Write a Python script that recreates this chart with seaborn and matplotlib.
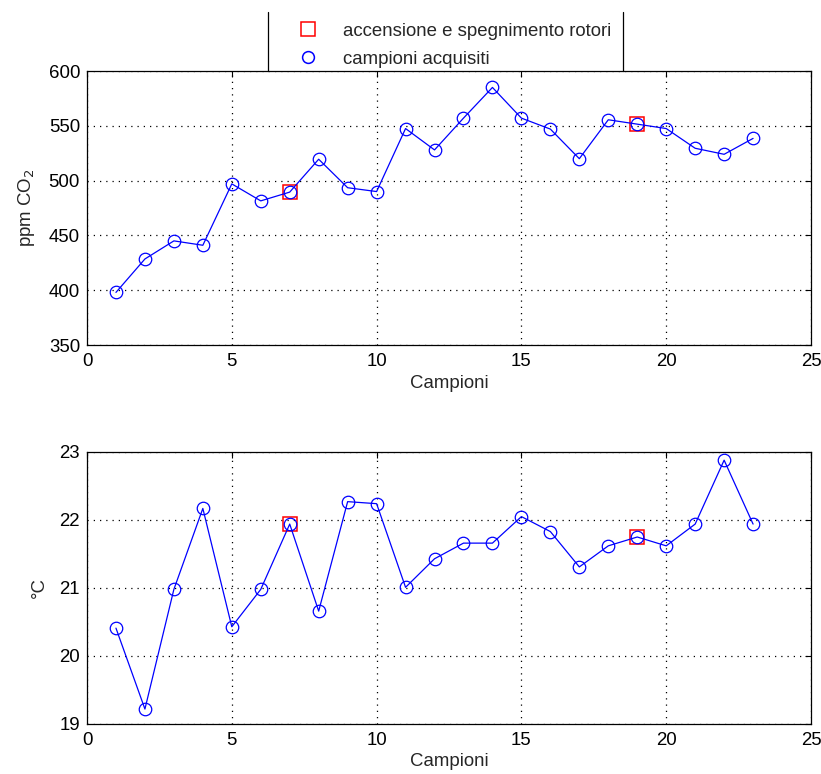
import numpy as np
import matplotlib
matplotlib.use("Agg")
import matplotlib.pyplot as plt
from matplotlib.lines import Line2D
import seaborn as sns

# Sample index and measured values
campioni = list(range(1, 24))
co2_ppm = [398, 428.5, 445, 441, 497, 481.5, 489.5, 519.5, 493.5, 490,
           547.5, 528, 557, 585, 557, 547, 520, 555.5, 551.5, 547.5,
           529.5, 524, 538.5]
temperatura = [20.41, 19.22, 20.98, 22.17, 20.43, 20.98, 21.94, 20.66,
               22.27, 22.24, 21.01, 21.43, 21.66, 21.66, 22.05, 21.83,
               21.31, 21.62, 21.75, 21.62, 21.94, 22.88, 21.94]
# Samples at which the rotors were switched on / off
rotori = [7, 19]

label_rotori = "accensione e spegnimento rotori"
label_campioni = "campioni acquisiti"

sns.set_style("white")
plt.rcParams["font.family"] = ["Liberation Sans", "DejaVu Sans"]
FS = 13.4
plt.rcParams["font.size"] = FS

W, H = 821, 774
fig = plt.figure(figsize=(W / 100, H / 100), dpi=100)
ax1 = fig.add_axes([87 / W, 1 - 345 / H, 724 / W, 274 / H])
ax2 = fig.add_axes([87 / W, 1 - 724 / H, 724 / W, 272 / H])

BLUE = (0, 0, 1)
RED = (1, 0, 0)


def draw_panel(ax, values, ylim, yticks, ylabel):
    idx = [i - 1 for i in rotori]
    sns.lineplot(x=[campioni[i] for i in idx], y=[values[i] for i in idx],
                 ax=ax, estimator=None, linestyle="none", marker="s",
                 markersize=10.5, markerfacecolor="none",
                 markeredgecolor=RED, markeredgewidth=1.1, zorder=3)
    sns.lineplot(x=campioni, y=values, ax=ax, estimator=None, color=BLUE,
                 linewidth=0.9, marker="o", markersize=9,
                 markerfacecolor="none", markeredgecolor=BLUE,
                 markeredgewidth=0.9, zorder=4)
    ax.set_xlim(0, 25)
    ax.set_ylim(*ylim)
    ax.set_xticks(range(0, 26, 5))
    ax.set_yticks(yticks)
    ax.grid(True, color="black", linestyle=(0, (1, 4)), linewidth=0.9)
    ax.tick_params(direction="in", length=4.5, width=0.8, top=True,
                   right=True, labelsize=FS, pad=6, colors="black")
    ax.tick_params(axis="y", pad=5)
    for sp in ax.spines.values():
        sp.set_visible(True)
        sp.set_color("black")
        sp.set_linewidth(0.9)
    ax.set_xlabel("Campioni", fontsize=FS, labelpad=3)
    ax.set_ylabel(ylabel, fontsize=FS, labelpad=8)


draw_panel(ax1, co2_ppm, (350, 600), range(350, 601, 50), "ppm CO$_2$")
draw_panel(ax2, temperatura, (19, 23), range(19, 24), "°C")

handles = [
    Line2D([], [], linestyle="none", marker="s", markersize=10.5,
           markerfacecolor="none", markeredgecolor=RED, markeredgewidth=1.1),
    Line2D([], [], linestyle="none", marker="o", markersize=8.5,
           markerfacecolor="none", markeredgecolor=BLUE, markeredgewidth=1.1),
]
fig.legend(handles, [label_rotori, label_campioni], loc="center left",
           bbox_to_anchor=(298.5 / W, 1 - 45 / H), frameon=False,
           borderpad=0, borderaxespad=0, handlelength=1.0,
           handletextpad=1.38, labelspacing=0.59, fontsize=FS)

# Open-topped legend frame resting on the upper axes
for xf in (268 / W, 623 / W):
    fig.add_artist(Line2D([xf, xf], [1 - 71 / H, 1 - 12 / H],
                          transform=fig.transFigure, color="black",
                          linewidth=0.9))

fig.savefig("out.png", dpi=100)
